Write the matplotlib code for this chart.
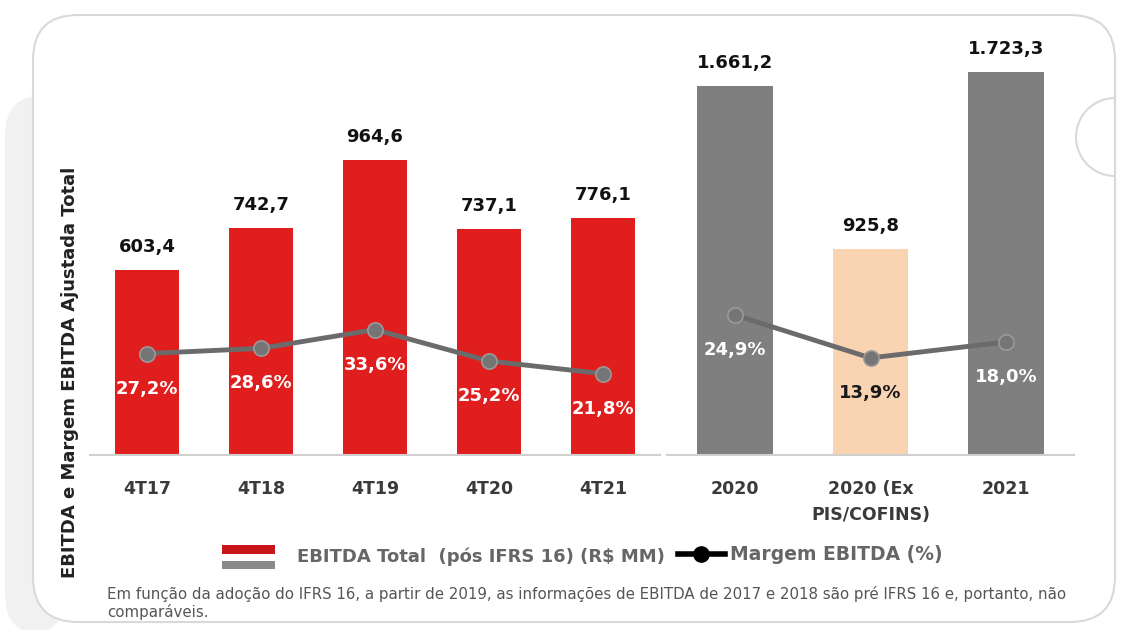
import matplotlib
matplotlib.use("Agg")
import matplotlib.pyplot as plt
from matplotlib.patches import FancyBboxPatch, Rectangle, Arc
from matplotlib.lines import Line2D

# ---- data ----
Q_LABELS = ["4T17", "4T18", "4T19", "4T20", "4T21"]
Q_EBITDA = [603.4, 742.7, 964.6, 737.1, 776.1]
Q_MARGIN = [27.2, 28.6, 33.6, 25.2, 21.8]

Y_LABELS = ["2020", "2020 (Ex\nPIS/COFINS)", "2021"]
Y_EBITDA = [1661.2, 925.8, 1723.3]
Y_MARGIN = [24.9, 13.9, 18.0]

RED = "#e01e1e"
GRAY = "#7f7f7f"
PEACH = "#f9d4b3"
LINE = "#6b6b6b"
TXT = "#3a3a3a"

W, H = 1130, 630
plt.rcParams["font.family"] = ["DejaVu Sans"]


def px(l, t, r, b):
    return [l / W, 1 - b / H, (r - l) / W, (b - t) / H]


def br(v, fmt="{:,.1f}"):
    # brazilian number format: 1.661,2
    s = fmt.format(v)
    return s.replace(",", "X").replace(".", ",").replace("X", ".")


fig = plt.figure(figsize=(W / 100, H / 100), dpi=100)

# ---- background card ----
bg = fig.add_axes([0, 0, 1, 1])
bg.set_xlim(0, W)
bg.set_ylim(H, 0)
bg.axis("off")
bg.add_patch(FancyBboxPatch((5, 95), 60, 540, boxstyle="round,pad=0,rounding_size=40",
                            fc="#f1f1f1", ec="none"))
bg.add_patch(FancyBboxPatch((33, 15), 1082, 607, boxstyle="round,pad=0,rounding_size=45",
                            fc="white", ec="#d9d9d9", lw=1.5))
bg.add_patch(Arc((1115, 137), 78, 78, theta1=90, theta2=270, color="#d9d9d9", lw=1.5))

bg.text(70, 372, "EBITDA e Margem EBITDA Ajustada Total", rotation=90,
        ha="center", va="center", fontsize=13, fontweight="bold", color="#222222")


def panel(rect, labels, ebitda, margin, colors, ymax, mlim, pct_colors):
    ax = fig.add_axes(px(*rect))
    x = list(range(len(labels)))
    ax.bar(x, ebitda, width=0.56, color=colors, zorder=2)
    for xi, v in zip(x, ebitda):
        ax.annotate(br(v), (xi, v), xytext=(0, 23), textcoords="offset pixels",
                    ha="center", va="center", fontsize=13, fontweight="bold",
                    color="#111111", annotation_clip=False)
    ax.set_xlim(-0.5, len(labels) - 0.5)
    ax.set_ylim(0, ymax)
    for s in ["top", "left", "right"]:
        ax.spines[s].set_visible(False)
    ax.spines["bottom"].set_color("#d0d0d0")
    ax.spines["bottom"].set_linewidth(1.5)
    ax.set_yticks([])
    ax.set_xticks(x)
    ax.set_xticklabels(labels, fontsize=12.5, fontweight="bold", color=TXT,
                       linespacing=1.6, va="top")
    ax.tick_params(axis="x", length=0, pad=18)
    ax.patch.set_alpha(0)

    ax2 = ax.twinx()
    ax2.set_ylim(*mlim)
    ax2.axis("off")
    ax2.plot(x, margin, color=LINE, lw=3.5, marker="o", ms=11,
             mfc="#757575", mec="#9a9a9a", mew=1.2, zorder=3)
    for xi, m, c in zip(x, margin, pct_colors):
        ax2.annotate(br(m) + "%", (xi, m), xytext=(0, -35), textcoords="offset pixels",
                     ha="center", va="center", fontsize=13, fontweight="bold", color=c)
    return ax


panel((90, 60, 660, 455), Q_LABELS, Q_EBITDA, Q_MARGIN, [RED] * 5,
      395 / 0.306, (0, 395 / 3.73), ["white"] * 5)
panel((667, 60, 1074, 455), Y_LABELS, Y_EBITDA, Y_MARGIN, [GRAY, PEACH, GRAY],
      395 / 0.222, (-11, 90.3), ["white", "#1a1a1a", "white"])

# ---- legend ----
bg.add_patch(Rectangle((222, 545), 53, 9, fc="#c8141a", ec="none"))
bg.add_patch(Rectangle((222, 561), 53, 8, fc="#8a8a8a", ec="none"))
bg.text(297, 557, "EBITDA Total  (pós IFRS 16) (R$ MM)", ha="left", va="center",
        fontsize=13, fontweight="bold", color="#666666")
bg.add_line(Line2D([678, 725], [554, 554], color="black", lw=4))
bg.add_line(Line2D([701], [554], color="black", marker="o", ms=11))
bg.text(730, 555, "Margem EBITDA (%)", ha="left", va="center",
        fontsize=13.5, fontweight="bold", color="#666666")

# ---- footnote ----
bg.text(107, 603, "Em função da adoção do IFRS 16, a partir de 2019, as informações de EBITDA "
        "de 2017 e 2018 são pré IFRS 16 e, portanto, não\ncomparáveis.",
        ha="left", va="center", fontsize=10.8, color="#555555", linespacing=1.1)

fig.savefig("out.png", dpi=100)
